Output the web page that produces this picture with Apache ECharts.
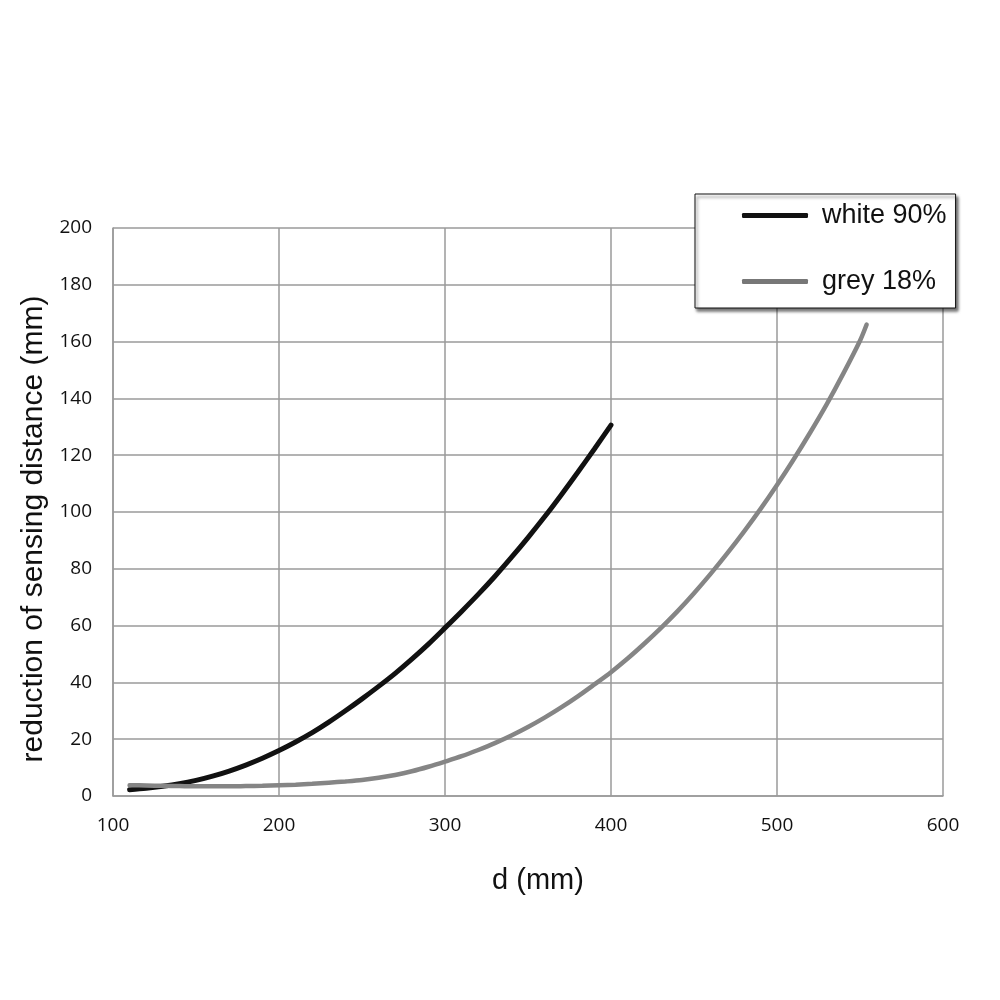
<!DOCTYPE html>
<html>
<head>
<meta charset="utf-8">
<title>sensing distance reduction</title>
<script src="https://cdn.jsdelivr.net/npm/echarts@6/dist/echarts.min.js"></script>
</head>
<body style="margin:0; background:#fff;">
<div id="main" style="width:1000px; height:1000px;"></div>
<script type="text/javascript">

// values
var whiteX = [110, 120, 130, 140, 150, 160, 170, 180, 190, 200, 210, 220, 230, 240, 250,
              260, 270, 280, 290, 300, 310, 320, 330, 340, 350, 360, 370, 380, 390, 400];
var whiteY = [2.2, 2.7, 3.4, 4.3, 5.5, 7, 8.8, 10.9, 13.3, 16, 19, 22.3, 26, 30, 34.2,
              38.6, 43.2, 48.2, 53.5, 59.2, 65, 71, 77.3, 84, 91, 98.3, 106, 114, 122.2, 130.6];

var greyX = [110, 120, 130, 140, 150, 160, 170, 180, 190, 200, 210, 220, 230, 240, 250,
             260, 270, 280, 290, 300, 310, 320, 330, 340, 350, 360, 370, 380, 390, 400,
             410, 420, 430, 440, 450, 460, 470, 480, 490, 500, 510, 520, 530, 540, 550, 554];
var greyY = [3.8, 3.7, 3.6, 3.5, 3.4, 3.4, 3.4, 3.5, 3.6, 3.8, 4.0, 4.3, 4.7, 5.1, 5.6,
             6.4, 7.4, 8.7, 10.3, 12.1, 14, 16.2, 18.6, 21.3, 24.3, 27.6, 31.2, 35.1, 39.3, 43.6,
             48.4, 53.6, 59.1, 65, 71.4, 78.2, 85.4, 93, 101, 109.5, 118.5, 128, 138, 148.8, 160.3, 166];

var seriesNames = ['white 90%', 'grey 18%'];
var xTicks = [100, 600, 100];   // min, max, interval
var yTicks = [0, 200, 20];

function pairs(xs, ys) {
  var out = [];
  for (var i = 0; i < xs.length; i++) out.push([xs[i], ys[i]]);
  return out;
}

var chart = echarts.init(document.getElementById('main'));

var gridColor = '#9a9a9a';
var labelFont = { color: '#111', fontFamily: 'Open Sans', fontSize: 19 };

var option = {
  animation: false,
  backgroundColor: '#fff',
  grid: { left: 113, right: 57, top: 228, bottom: 204 },
  legend: {
    orient: 'vertical',
    left: 695,
    top: 194,
    padding: [8, 9, 13, 47],
    itemGap: 39,
    itemWidth: 66,
    itemHeight: 5,
    backgroundColor: '#fff',
    borderColor: '#111',
    borderWidth: 1,
    borderRadius: 0,
    shadowColor: 'rgba(0,0,0,0.55)',
    shadowBlur: 3,
    shadowOffsetX: 2,
    shadowOffsetY: 3,
    textStyle: {
      color: '#111',
      fontFamily: 'Liberation Sans',
      fontSize: 27,
      padding: [0, 0, 0, 9]
    },
    data: [
      { name: seriesNames[0], icon: 'roundRect', itemStyle: { color: '#111' } },
      { name: seriesNames[1], icon: 'roundRect', itemStyle: { color: '#777' } }
    ]
  },
  xAxis: {
    type: 'value',
    min: xTicks[0],
    max: xTicks[1],
    interval: xTicks[2],
    name: 'd (mm)',
    nameLocation: 'middle',
    nameGap: 70,
    nameTextStyle: {
      color: '#111',
      fontFamily: 'Liberation Sans',
      fontSize: 29,
      padding: [0, 0, 0, 20]
    },
    axisLine: { lineStyle: { color: gridColor, width: 1.5 } },
    axisTick: { show: false },
    axisLabel: Object.assign({ margin: 20 }, labelFont),
    splitLine: { lineStyle: { color: gridColor, width: 1.5 } }
  },
  yAxis: {
    type: 'value',
    min: yTicks[0],
    max: yTicks[1],
    interval: yTicks[2],
    name: 'reduction of sensing distance (mm)',
    nameLocation: 'middle',
    nameGap: 62,
    nameTextStyle: {
      color: '#111',
      fontFamily: 'Liberation Sans',
      fontSize: 30,
      padding: [0, 34, 0, 0]
    },
    axisLine: { show: true, lineStyle: { color: gridColor, width: 1.5 } },
    axisTick: { show: false },
    axisLabel: Object.assign({ margin: 21 }, labelFont),
    splitLine: { lineStyle: { color: gridColor, width: 1.5 } }
  },
  series: [
    {
      name: seriesNames[0],
      type: 'line',
      smooth: 0.3,
      symbol: 'none',
      lineStyle: { color: '#111', width: 5, cap: 'round' },
      itemStyle: { color: '#111' },
      data: pairs(whiteX, whiteY)
    },
    {
      name: seriesNames[1],
      type: 'line',
      smooth: 0.3,
      symbol: 'none',
      lineStyle: { color: '#858585', width: 4.5, cap: 'round' },
      itemStyle: { color: '#858585' },
      data: pairs(greyX, greyY)
    }
  ]
};

chart.setOption(option);
</script>
</body>
</html>
